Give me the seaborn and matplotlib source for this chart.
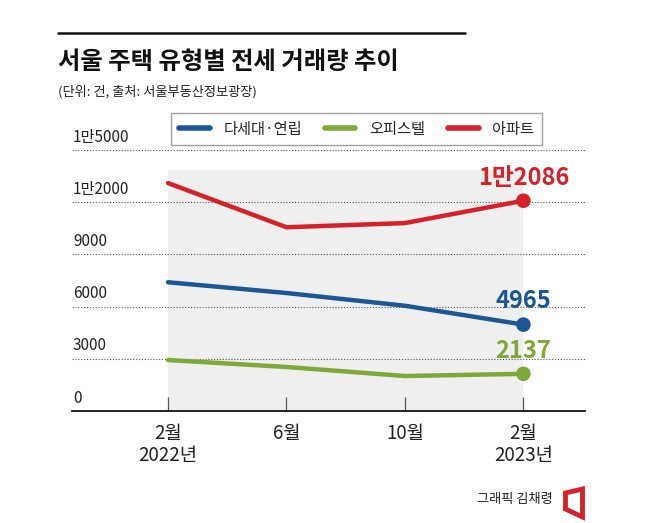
import pandas as pd
import matplotlib.pyplot as plt
import seaborn as sns
from matplotlib.patches import Polygon

# 서울 주택 유형별 전세 거래량 (건)
months = ["2월\n2022년", "6월", "10월", "2월\n2023년"]
villa = [7400, 6780, 6050, 4965]      # 다세대·연립
officetel = [2930, 2530, 2010, 2137]  # 오피스텔
apt = [13100, 10560, 10800, 12086]    # 아파트
series_names = ["다세대·연립", "오피스텔", "아파트"]
series_colors = ["#1d5793", "#7ea83a", "#d5212a"]
end_labels = ["4965", "2137", "1만2086"]
y_ticks = [0, 3000, 6000, 9000, 12000, 15000]
y_tick_labels = ["0", "3000", "6000", "9000", "1만2000", "1만5000"]

rows = []
for name, vals in zip(series_names, [villa, officetel, apt]):
    for i, v in enumerate(vals):
        rows.append({"pos": i, "type": name, "value": v})
df = pd.DataFrame(rows)
palette = dict(zip(series_names, series_colors))

sns.set_theme(style="white")
plt.rcParams["font.family"] = ["Noto Sans CJK KR", "DejaVu Sans"]

fig = plt.figure(figsize=(6.58, 5.23), dpi=100)
ax = fig.add_axes([72 / 658, 1 - 411 / 523, 513 / 658, 261 / 523])

# gray band behind the lines
ax.axvspan(0, len(months) - 1, ymin=0, ymax=13850 / 15000, color="#efefef", lw=0, zorder=0)

for t in y_ticks[1:]:
    ax.axhline(t, color="#555555", lw=0.8, ls=(0, (1, 1.6)), zorder=1)
for t, lab in zip(y_ticks, y_tick_labels):
    ax.text(0.002, t + 250, lab, transform=ax.get_yaxis_transform(), ha="left", va="bottom",
            fontsize=11, color="#222222")

sns.lineplot(data=df, x="pos", y="value", hue="type", palette=palette, lw=3.2,
             ax=ax, zorder=3, hue_order=series_names)

last = df[df["pos"] == len(months) - 1]
sns.scatterplot(data=last, x="pos", y="value", hue="type", palette=palette, s=110,
                ax=ax, zorder=4, legend=False, edgecolor="none")
for name, lab, col in zip(series_names, end_labels, series_colors):
    v = last.loc[last["type"] == name, "value"].iloc[0]
    ax.annotate(lab, (len(months) - 1, v), xytext=(0, 8), textcoords="offset points",
                ha="center", va="bottom", fontsize=17, fontweight="bold", color=col)

ax.set_xlim(-0.81, 3.52)
ax.set_ylim(0, 15000)
ax.set_xticks(range(len(months)))
ax.set_xticklabels(months, fontsize=13.5, linespacing=1.05, color="#222222")
ax.set_yticks([])
ax.set_xlabel("")
ax.set_ylabel("")
ax.tick_params(axis="x", direction="in", length=10, width=0.9, color="#555555", pad=9, bottom=True)
for s in ["top", "left", "right"]:
    ax.spines[s].set_visible(False)
ax.spines["bottom"].set_color("#111111")
ax.spines["bottom"].set_linewidth(1.3)

sns.move_legend(ax, "lower left", bbox_to_anchor=(0.179, 0.989, 0.752, 0.146), ncol=3,
                mode="expand", title=None, frameon=True, fancybox=False, fontsize=11,
                handlelength=2.0, borderpad=0.5, handletextpad=0.9)
leg = ax.get_legend()
leg.get_frame().set_edgecolor("#888888")
leg.get_frame().set_linewidth(1.0)
for ln in leg.get_lines():
    ln.set_linewidth(4)

# header
fig.add_artist(plt.Line2D([58 / 658, 465 / 658], [1 - 33 / 523] * 2, color="#111111", lw=1.8))
fig.text(58 / 658, 1 - 62 / 523, "서울 주택 유형별 전세 거래량 추이", fontsize=17.5,
         fontweight="bold", va="center", ha="left", color="#111111")
fig.text(58 / 658, 1 - 92 / 523, "(단위: 건, 출처: 서울부동산정보광장)", fontsize=9.5,
         va="center", ha="left", color="#222222")

# footer
fig.text(553 / 658, 1 - 500 / 523, "그래픽 김채령", fontsize=9.5, ha="right", va="center",
         color="#222222")
logo = [(565.5, 493), (582.5, 489), (582.5, 517), (565.5, 509)]
fig.add_artist(Polygon([(x / 658, 1 - y / 523) for x, y in logo], closed=True, fill=False,
                       edgecolor="#d5212a", lw=3.5, transform=fig.transFigure))

fig.savefig("out.png", dpi=100)
